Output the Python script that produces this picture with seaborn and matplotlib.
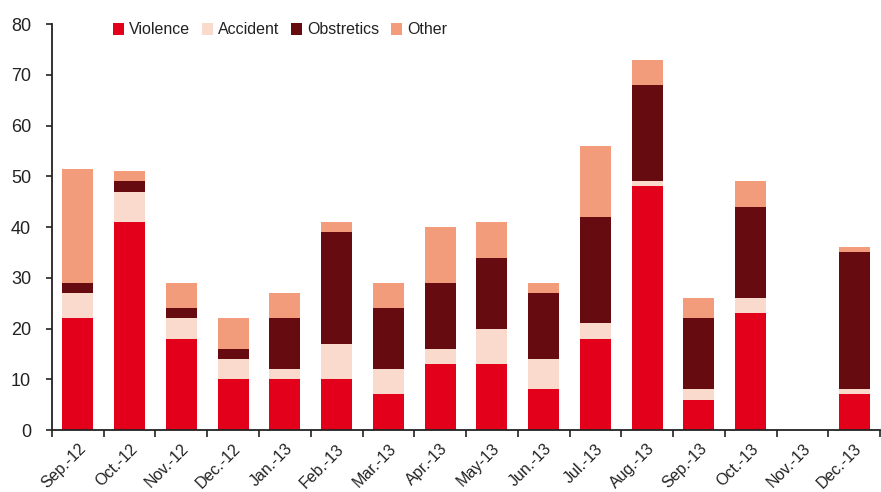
import numpy as np
import pandas as pd
import seaborn as sns
import matplotlib.pyplot as plt
from matplotlib.patches import Patch

months = ["Sep.-12", "Oct.-12", "Nov.-12", "Dec.-12", "Jan.-13", "Feb.-13", "Mar.-13", "Apr.-13",
          "May-13", "Jun.-13", "Jul.-13", "Aug.-13", "Sep.-13", "Oct.-13", "Nov.-13", "Dec.-13"]
violence = [22, 41, 18, 10, 10, 10, 7, 13, 13, 8, 18, 48, 6, 23, 0, 7]
accident = [5, 6, 4, 4, 2, 7, 5, 3, 7, 6, 3, 1, 2, 3, 0, 1]
obstetrics = [2, 2, 2, 2, 10, 22, 12, 13, 14, 13, 21, 19, 14, 18, 0, 27]
other = [22.5, 2, 5, 6, 5, 2, 5, 11, 7, 2, 14, 5, 4, 5, 0, 1]

series = ["Violence", "Accident", "Obstretics", "Other"]
colors = ["#e2001a", "#f9dacc", "#660c10", "#f29c7c"]

df = pd.DataFrame({"Month": months, "Violence": violence, "Accident": accident,
                   "Obstretics": obstetrics, "Other": other})
# cumulative heights, drawn from the top layer down
cum = df[series].cumsum(axis=1)

sns.set_style("white")
plt.rcParams["font.family"] = ["Liberation Sans", "DejaVu Sans"]

fig = plt.figure(figsize=(8.81, 4.92), dpi=100)
ax = fig.add_axes([0.059, 0.126, 0.94, 0.825])

for name, color in reversed(list(zip(series, colors))):
    sns.barplot(x=df["Month"], y=cum[name], color=color, width=0.6,
                saturation=1, linewidth=0, ax=ax, order=months)

ax.set_xlim(-0.5, len(months) - 0.5)
ax.set_ylim(0, 80)
ax.set_yticks(range(0, 81, 10))
ax.set_xlabel("")
ax.set_ylabel("")

# ticks at category boundaries, labels at centres
ax.set_xticks(np.arange(-0.5, len(months), 1))
ax.set_xticklabels([])
ax.set_xticks(np.arange(len(months)), minor=True)
ax.set_xticklabels(months, minor=True, rotation=45, ha="right",
                   rotation_mode="anchor", fontsize=11.5, color="#222222")
ax.tick_params(axis="x", which="minor", bottom=False, length=0, pad=8)
ax.tick_params(axis="x", which="major", bottom=True, direction="out", length=5,
               width=1.2, color="#222222")
ax.tick_params(axis="y", left=True, direction="out", length=4, width=1.2, color="#222222",
               labelsize=13, labelcolor="#222222", pad=11)

sns.despine(ax=ax)
for side in ["left", "bottom"]:
    ax.spines[side].set_color("#222222")
    ax.spines[side].set_linewidth(1.3)

handles = [Patch(facecolor=c, edgecolor="none", label=s) for s, c in zip(series, colors)]
fig.legend(handles=handles, loc="center left", bbox_to_anchor=(0.128, 1 - 30 / 492),
           ncol=4, frameon=False, fontsize=11.5, handlelength=0.7, handleheight=0.7,
           handletextpad=0.3, columnspacing=0.75, borderpad=0, borderaxespad=0,
           labelcolor="#222222")

fig.savefig("out.png", dpi=100)
